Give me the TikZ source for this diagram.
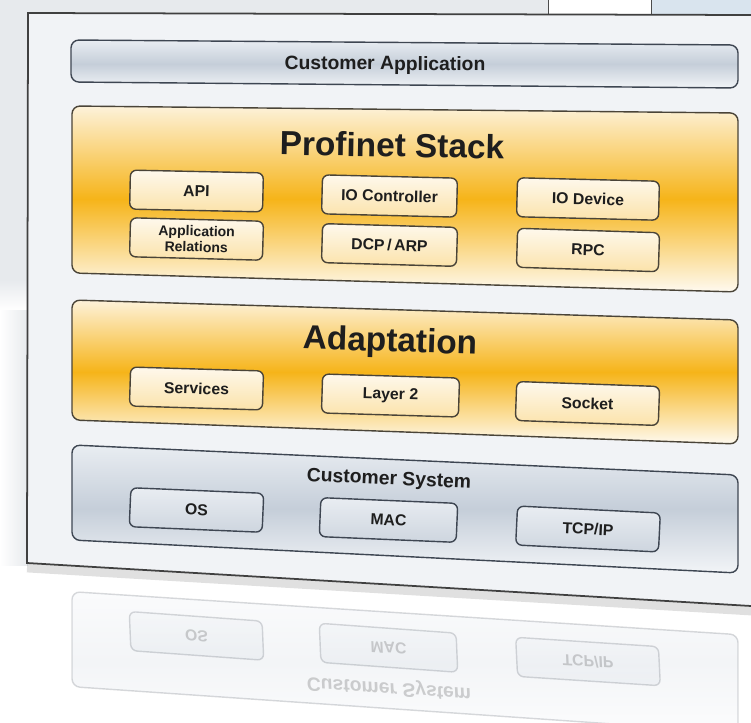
\documentclass[tikz,border=0pt]{standalone}
\usepackage{fontspec}
\setmainfont{Liberation Sans}
\usepackage{xcolor}
\usepackage{tikz}
\usetikzlibrary{calc}

\definecolor{pnorange}{HTML}{F6B419}
\definecolor{pncream}{HTML}{FDF2DA}
\definecolor{pnline}{HTML}{4A4438}
\definecolor{sysgray}{HTML}{C5CED9}
\definecolor{syslight}{HTML}{E9EDF2}
\definecolor{sysline}{HTML}{3E4652}
\definecolor{paneltone}{HTML}{F1F3F6}
\definecolor{bggray}{HTML}{E7EAED}
\definecolor{winblue}{HTML}{D9E4EE}
\definecolor{inktext}{HTML}{1E1E1E}

\tikzset{
  layerbar/.style={draw=sysline, line width=0.8pt, rounded corners=4.5pt},
  graybar/.style={layerbar, top color=syslight, bottom color=syslight!60!white, middle color=sysgray},
  orangebar/.style={layerbar, draw=pnline, top color=pncream, bottom color=pncream!40!white, middle color=pnorange},
  layerbox/.style={rectangle, rounded corners=3.5pt, line width=0.8pt, minimum height=0.78cm,
    font=\bfseries\fontsize{9}{10}\selectfont, text=inktext, align=center},
  pnbox/.style={layerbox, draw=pnline, top color=pncream!50!white, bottom color=pncream!75!pnorange},
  sysbox/.style={layerbox, draw=sysline, top color=syslight, bottom color=sysgray!85!white},
  bigtitle/.style={text=inktext, font=\bfseries\fontsize{19}{22}\selectfont},
  smalltitle/.style={text=inktext, font=\bfseries\fontsize{11}{13}\selectfont},
}

% customer system layer, drawn once and once more as reflection
\newcommand{\syslayer}[1]{%
  \shade[graybar] (72,445) -- (738,475) -- (738,573) -- (72,540) -- cycle;
  \node[smalltitle, rotate=-2.6] (#1title) at (389,480) {Customer System};
  \node[sysbox, minimum width=2.66cm, rotate=-2.4] (#1os) at (196.5,510) {OS};
  \node[sysbox, minimum width=2.74cm, rotate=-2.4] (#1mac) at (388.5,520) {MAC};
  \node[sysbox, minimum width=2.86cm, rotate=-2.8] (#1tcp) at (588,529) {TCP/IP};
}

\begin{document}
\begin{tikzpicture}[x=0.02cm, y=-0.02cm]
\useasboundingbox (0,0) rectangle (751,723);

% Background and windows behind
\fill[white] (0,0) rectangle (751,723);
\fill[bggray] (0,0) rectangle (548,14);
\fill[bggray] (0,0) rectangle (28,280);
\shade[top color=bggray, bottom color=white] (0,280) rectangle (28,310);
\shade[left color=white, right color=bggray] (0,310) rectangle (28,565);
\fill[white] (548,0) rectangle (651,14);
\fill[winblue] (651,0) rectangle (751,14);
\draw[gray!60!black] (548,0) -- (548,14);
\draw[gray!60!black] (651,0) -- (651,14);

% Reflection under the panel
\begin{scope}[cm={1,-0.114,0,-1,(0,-22.474cm)}, transform shape, opacity=0.2]
  \syslayer{r}
\end{scope}

% Panel
\draw[black, opacity=0.12, line width=5pt] (27,568) -- (751,611);
\fill[paneltone] (28,13) -- (751,15) -- (751,606) -- (27,563) -- cycle;
\draw[black!75, line width=1pt] (751,15) -- (28,13) -- (27,563) -- (751,606);

% Customer application
\shade[graybar] (71,40) -- (738,45) -- (738,88) -- (71,82) -- cycle;
\node[smalltitle, rotate=-0.4] (appl) at (385,65) {Customer Application};

% Profinet stack
\shade[orangebar] (72,106) -- (738,113) -- (738,292) -- (72,273) -- cycle;
\node[bigtitle, rotate=-1] (stack) at (392,145) {Profinet Stack};
\node[pnbox, minimum width=2.66cm, rotate=-1.2] (api) at (196.5,191) {API};
\node[pnbox, minimum width=2.66cm, rotate=-1.5, inner ysep=1pt,
  font=\bfseries\fontsize{8}{9}\selectfont] (apprel) at (196.5,239) {Application\\Relations};
\node[pnbox, minimum width=2.7cm, rotate=-1.4] (ioctrl) at (389.5,196) {IO Controller};
\node[pnbox, minimum width=2.7cm, rotate=-1.6] (dcp) at (389.5,245) {DCP\,/\,ARP};
\node[pnbox, minimum width=2.84cm, rotate=-1.4] (iodev) at (588,199) {IO Device};
\node[pnbox, minimum width=2.84cm, rotate=-1.8] (rpc) at (588,250) {RPC};

% Adaptation
\shade[orangebar] (72,300) -- (738,320) -- (738,444) -- (72,420) -- cycle;
\node[bigtitle, rotate=-1.8] (adapt) at (390,343) {Adaptation};
\node[pnbox, minimum width=2.66cm, rotate=-1.7] (serv) at (196.5,388.5) {Services};
\node[pnbox, minimum width=2.74cm, rotate=-1.7] (layer) at (390.5,395.5) {Layer 2};
\node[pnbox, minimum width=2.86cm, rotate=-2] (sock) at (587.5,403.5) {Socket};

% Customer system
\syslayer{c}

\end{tikzpicture}
\end{document}
